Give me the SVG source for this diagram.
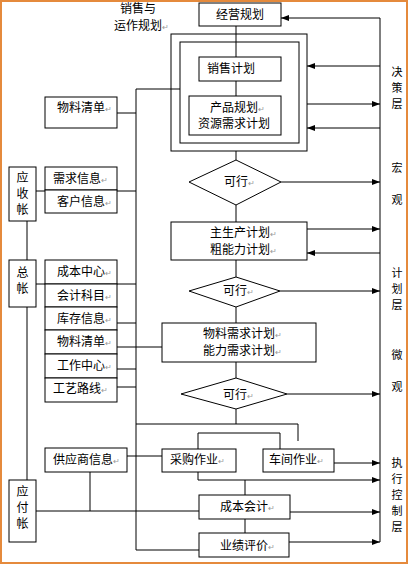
<svg xmlns="http://www.w3.org/2000/svg" width="408" height="565" viewBox="0 0 408 565">
<defs>
<marker id="ah" markerWidth="8" markerHeight="6" refX="8" refY="3" orient="auto" markerUnits="userSpaceOnUse">
<path d="M0,0 L8,3 L0,6 Z" fill="#000"/>
</marker>
<style>
.b{fill:#fff;stroke:#000;stroke-width:1}
.l{fill:none;stroke:#000;stroke-width:1}
.a{fill:none;stroke:#000;stroke-width:1;marker-end:url(#ah)}
text{font-family:"Noto Sans CJK SC","Liberation Sans",sans-serif;font-size:12px;fill:#000}
.m{font-size:8px;fill:#999}
.c{text-anchor:middle}
.s{font-size:11px}
</style>
</defs>
<rect x="1" y="1" width="406" height="562" fill="#fff" stroke="#E58A3C" stroke-width="2"/>
<g id="connectors">
<line class="l" x1="236" y1="26" x2="236" y2="57"/>
<line class="l" x1="236" y1="81" x2="236" y2="96"/>
<line class="l" x1="236" y1="151" x2="236" y2="160"/>
<line class="l" x1="236" y1="205" x2="236" y2="222"/>
<line class="l" x1="236" y1="260" x2="236" y2="277"/>
<line class="l" x1="236" y1="307" x2="236" y2="323"/>
<line class="l" x1="236" y1="362" x2="236" y2="378"/>
<line class="l" x1="236" y1="409" x2="236" y2="424"/>
<line class="l" x1="136" y1="424" x2="298" y2="424"/>
<line class="l" x1="298" y1="424" x2="298" y2="441"/>
<polyline class="l" points="198,449 198,433 280,433 280,449"/>
<line class="l" x1="198" y1="472" x2="198" y2="480"/>
<line class="l" x1="245" y1="480" x2="245" y2="495"/>
<line class="l" x1="245" y1="519" x2="245" y2="533"/>
<line class="l" x1="380" y1="18" x2="380" y2="542"/>
<line class="l" x1="136" y1="89" x2="136" y2="550"/>
<line class="l" x1="136" y1="89" x2="180" y2="89"/>
<line class="l" x1="136" y1="550" x2="199" y2="550"/>
<line class="l" x1="117" y1="113" x2="136" y2="113"/>
<line class="l" x1="36" y1="191" x2="45" y2="191"/>
<line class="l" x1="117" y1="191" x2="136" y2="191"/>
<line class="l" x1="27" y1="221" x2="27" y2="260"/>
<line class="l" x1="36" y1="284" x2="45" y2="284"/>
<line class="l" x1="117" y1="284" x2="136" y2="284"/>
<line class="l" x1="117" y1="323" x2="136" y2="323"/>
<line class="l" x1="117" y1="347" x2="162" y2="347"/>
<line class="l" x1="117" y1="369" x2="136" y2="369"/>
<line class="l" x1="117" y1="387" x2="136" y2="387"/>
<line class="l" x1="27" y1="307" x2="27" y2="480"/>
<line class="l" x1="127" y1="456" x2="162" y2="456"/>
<line class="l" x1="90" y1="472" x2="90" y2="511"/>
<line class="l" x1="36" y1="511" x2="199" y2="511"/>
<line class="a" x1="380" y1="18" x2="281" y2="18"/>
<line class="a" x1="380" y1="66" x2="307" y2="66"/>
<line class="a" x1="307" y1="104" x2="380" y2="104"/>
<line class="a" x1="380" y1="128" x2="307" y2="128"/>
<line class="a" x1="281" y1="182" x2="380" y2="182"/>
<line class="a" x1="307" y1="229" x2="380" y2="229"/>
<line class="a" x1="380" y1="253" x2="307" y2="253"/>
<line class="a" x1="280" y1="291" x2="380" y2="291"/>
<line class="a" x1="287" y1="394" x2="380" y2="394"/>
<line class="a" x1="334" y1="463" x2="380" y2="463"/>
<line class="a" x1="198" y1="480" x2="380" y2="480"/>
<line class="a" x1="290" y1="512" x2="380" y2="512"/>
<line class="a" x1="289" y1="542" x2="380" y2="542"/>
</g>
<g id="label-sop"><text x="120" y="13">销售与</text><text x="114" y="30">运作规划<tspan class="m">↵</tspan></text></g>
<g id="n-jingying"><rect class="b" x="199" y="3" width="82" height="23"/><text x="240" y="19" class="c">经营规划</text></g>
<g id="n-outer"><rect class="l" x="171" y="34" width="136" height="117"/><rect class="l" x="180" y="42" width="119" height="101"/></g>
<g id="n-xiaoshou"><rect class="b" x="199" y="57" width="82" height="24"/><text x="207" y="73">销售计划</text></g>
<g id="n-chanpin"><rect class="b" x="189" y="96" width="92" height="39"/><text x="210" y="112">产品规划<tspan class="m">↵</tspan></text><text x="198" y="128">资源需求计划</text></g>
<g id="n-wuliao1"><rect class="b" x="45" y="97" width="72" height="31"/><text x="57" y="112">物料清单<tspan class="m">↵</tspan></text></g>
<g id="n-yingshou"><rect class="b" x="9" y="167" width="27" height="54"/><text x="22.5" y="182" class="c">应</text><text x="22.5" y="198" class="c">收</text><text x="22.5" y="214" class="c">帐</text></g>
<g id="n-xuqiu"><rect class="b" x="45" y="167" width="72" height="23"/><text x="53" y="183">需求信息<tspan class="m">↵</tspan></text></g>
<g id="n-kehu"><rect class="b" x="45" y="190" width="72" height="23"/><text x="57" y="206">客户信息<tspan class="m">↵</tspan></text></g>
<g id="n-d1"><polygon class="b" points="236,160 281,182 236,205 189,182"/><text x="224" y="186">可行<tspan class="m">↵</tspan></text></g>
<g id="n-zhusheng"><rect class="b" x="171" y="222" width="136" height="38"/><text x="210" y="237">主生产计划<tspan class="m">↵</tspan></text><text x="210" y="254">粗能力计划<tspan class="m">↵</tspan></text></g>
<g id="n-zongzhang"><rect class="b" x="9" y="260" width="27" height="47"/><text x="22.5" y="277" class="c">总</text><text x="22.5" y="293" class="c">帐</text></g>
<g id="n-chengben"><rect class="b" x="45" y="260" width="72" height="24"/><text x="57" y="276">成本中心<tspan class="m">↵</tspan></text></g>
<g id="n-kuaiji"><rect class="b" x="45" y="284" width="72" height="23"/><text x="57" y="300">会计科目<tspan class="m">↵</tspan></text></g>
<g id="n-kucun"><rect class="b" x="45" y="307" width="72" height="23"/><text x="57" y="323">库存信息<tspan class="m">↵</tspan></text></g>
<g id="n-wuliao2"><rect class="b" x="45" y="330" width="72" height="24"/><text x="57" y="346">物料清单<tspan class="m">↵</tspan></text></g>
<g id="n-gongzuo"><rect class="b" x="45" y="354" width="72" height="24"/><text x="57" y="370">工作中心<tspan class="m">↵</tspan></text></g>
<g id="n-gongyi"><rect class="b" x="45" y="378" width="72" height="24"/><text x="53" y="393">工艺路线<tspan class="m">↵</tspan></text></g>
<g id="n-d2"><polygon class="b" points="236,277 280,291 236,307 189,291"/><text x="223" y="295">可行<tspan class="m">↵</tspan></text></g>
<g id="n-mrp"><rect class="b" x="162" y="323" width="154" height="39"/><text x="203" y="338">物料需求计划<tspan class="m">↵</tspan></text><text x="203" y="355">能力需求计划<tspan class="m">↵</tspan></text></g>
<g id="n-d3"><polygon class="b" points="236,378 287,394 236,409 181,394"/><text x="223" y="399">可行<tspan class="m">↵</tspan></text></g>
<g id="n-gongying"><rect class="b" x="45" y="448" width="82" height="24"/><text x="53" y="464">供应商信息<tspan class="m">↵</tspan></text></g>
<g id="n-caigou"><rect class="b" x="162" y="449" width="74" height="23"/><text x="170" y="464">采购作业<tspan class="m">↵</tspan></text></g>
<g id="n-chejian"><rect class="b" x="263" y="449" width="71" height="23"/><text x="269" y="464">车间作业<tspan class="m">↵</tspan></text></g>
<g id="n-yingfu"><rect class="b" x="9" y="480" width="27" height="62"/><text x="22.5" y="496" class="c">应</text><text x="22.5" y="512" class="c">付</text><text x="22.5" y="528" class="c">帐</text></g>
<g id="n-chengbenkuaiji"><rect class="b" x="199" y="495" width="91" height="24"/><text x="220" y="511">成本会计<tspan class="m">↵</tspan></text></g>
<g id="n-yeji"><rect class="b" x="199" y="533" width="90" height="24"/><text x="220" y="550">业绩评价<tspan class="m">↵</tspan></text></g>
<g id="side-labels">
<text x="397" y="76" class="c s">决</text><text x="397" y="92" class="c s">策</text><text x="397" y="108" class="c s">层</text>
<text x="397" y="172" class="c s">宏</text><text x="397" y="204" class="c s">观</text>
<text x="397" y="277" class="c s">计</text><text x="397" y="293" class="c s">划</text><text x="397" y="309" class="c s">层</text>
<text x="397" y="359" class="c s">微</text><text x="397" y="391" class="c s">观</text>
<text x="397" y="467" class="c s">执</text><text x="397" y="483" class="c s">行</text><text x="397" y="499" class="c s">控</text><text x="397" y="515" class="c s">制</text><text x="397" y="531" class="c s">层</text>
</g>
</svg>
